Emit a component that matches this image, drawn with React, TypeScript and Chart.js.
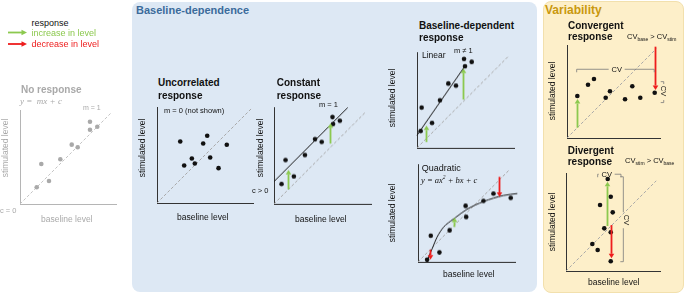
import React, { useEffect, useRef } from "react";
import { Chart, registerables } from "chart.js";
Chart.register(...registerables);

// ---------- data ----------
// No response (grey)
const noRespX = [7.29, 8.05, 7.29, 5.39, 6.01, 4.2, 2.22, 3.02, 1.74];
const noRespY = [8.57, 8.05, 7.74, 6.18, 5.91, 4.66, 4.17, 2.4, 1.74];
const noRespDiag = [0, 9.5];
// Uncorrelated response
const uncorrX = [2.42, 5.23, 4.81, 7.27, 3.63, 5.54, 3.94, 2.83, 6.41];
const uncorrY = [6.41, 7.0, 6.2, 6.06, 4.64, 4.74, 4.11, 3.91, 3.63];
const uncorrDiag = [0, 9.8];
// Constant response
const constX = [6.03, 6.79, 6.09, 4.23, 4.92, 3.19, 1.19, 2.05, 0.78];
const constY = [8.93, 8.55, 8.21, 6.65, 6.37, 5.03, 4.51, 2.82, 2.05];
const constFitX = [0, 7.6];
const constFitY = [2.3, 9.9];
const constDiag = [0, 9.4];
const constUpX = [1.45, 5.75];
const constUpFrom = [1.5, 6.2];
const constUpTo = [3.5, 8.3];
// Baseline-dependent: linear
const linX = [4.85, 5.64, 4.95, 3.23, 4.02, 2.37, 0.48, 1.55, 0.38];
const linY = [9.15, 8.85, 8.4, 6.62, 6.41, 4.9, 4.14, 2.56, 1.73];
const linFitX = [0, 5.0];
const linFitY = [1.3, 8.5];
const linDiag = [0, 9.5];
const linUpX = [0.9, 4.71];
const linUpFrom = [0.6, 4.97];
const linUpTo = [2.3, 8.16];
// Baseline-dependent: quadratic
const quadX = [7.78, 9.56, 6.75, 4.91, 4.97, 3.26, 1.32, 2.21, 0.94];
const quadY = [6.99, 6.55, 6.24, 5.73, 4.6, 3.23, 2.68, 0.97, 0.22];
const quadCurveX = [0.94, 1.46, 1.97, 2.65, 3.33, 3.85, 5.05, 6.75, 8.8, 10.24];
const quadCurveY = [0.15, 1.35, 2.54, 3.57, 4.15, 4.53, 5.38, 6.17, 6.79, 6.99];
const quadDiag = [0, 9.4];
const quadDownX = [1.21, 8.36];
const quadDownFrom = [1.25, 8.7];
const quadDownTo = [0.22, 6.65];
const quadUpX = [3.67];
const quadUpFrom = [3.57];
const quadUpTo = [4.53];
// Variability: convergent
const convX = [2.9, 2.26, 1.11, 4.62, 4.16, 7.02, 6.24, 7.88, 9.43];
const convY = [6.34, 5.73, 4.52, 5.02, 4.33, 5.56, 4.16, 4.33, 4.87];
const convDiag = [0, 9.6];
const convUpX = [1.11];
const convUpFrom = [1.11];
const convUpTo = [4.19];
const convDownX = [9.46];
const convDownFrom = [9.82];
const convDownTo = [5.16];
const convCvH = { x0: 1.04, x1: 9.38, y: 7.39, gapAt: 5.34 };
const convCvV = { y0: 3.81, y1: 6.06, x: 10.4, gapAt: 4.94 };
// Variability: divergent
const divX = [4.44, 4.76, 3.62, 4.97, 4.07, 4.76, 2.8, 3.37, 4.76];
const divY = [9.79, 7.9, 7.02, 6.24, 4.54, 4.12, 2.87, 2.23, 1.03];
const divDiag = [0, 9.6];
const divUpX = [4.4];
const divUpFrom = [4.79];
const divUpTo = [9.5];
const divDownX = [4.76];
const divDownFrom = [4.89];
const divDownTo = [1.35];
const divCvH = { x0: 3.37, x1: 5.85, y: 10.3, gapAt: 4.33 };
const divCvV = { y0: 0.99, y1: 10.03, x: 6.1, gapAt: 5.4 };

// ---------- styles ----------
const GREEN = "#8cc94f";
const RED = "#ee1d1d";
const GREY = "#a9a9a9";
const INK = "#111111";
const FONT = "'Liberation Sans', Arial, sans-serif";

type ArrowSet = { xs: number[]; from: number[]; to: number[]; color: string };
type HB = { x0: number; x1: number; y: number; gapAt: number };
type VB = { y0: number; y1: number; x: number; gapAt: number };

const pts = (xs: number[], ys: number[]) => xs.map((x, i) => ({ x, y: ys[i] }));
const scatterDs = (xs: number[], ys: number[], color: string) => ({
  type: "scatter" as const,
  data: pts(xs, ys),
  pointRadius: 2.3,
  pointBackgroundColor: color,
  pointBorderWidth: 0,
  showLine: false,
  clip: false as any,
  order: 0,
});
const diagDs = (d: number[], color: string) => ({
  type: "line" as const,
  data: pts(d, d),
  borderColor: color,
  borderWidth: 1,
  borderDash: [3, 2],
  pointRadius: 0,
  clip: false as any,
  order: 3,
});
const lineDs = (xs: number[], ys: number[], smooth: boolean) => ({
  type: "line" as const,
  data: pts(xs, ys),
  borderColor: "#1a1a1a",
  borderWidth: 1,
  pointRadius: 0,
  cubicInterpolationMode: smooth ? ("monotone" as const) : ("default" as const),
  tension: 0,
  clip: false as any,
  order: 2,
});

const PAD = 16;

function Plot(props: {
  left: number; top: number; width: number; height: number;
  yMax: number; datasets: any[]; axisColor: string;
  arrows?: ArrowSet[]; hb?: HB[]; vb?: VB[];
}) {
  const ref = useRef<HTMLCanvasElement>(null);
  const { left, top, width, height, yMax, datasets, axisColor } = props;
  useEffect(() => {
    const arrows = props.arrows || [];
    const hb = props.hb || [];
    const vb = props.vb || [];
    const annot = {
      id: "annot",
      afterDatasetsDraw(chart: any) {
        const ctx = chart.ctx as CanvasRenderingContext2D;
        const xs = chart.scales.x;
        const ys = chart.scales.y;
        ctx.save();
        for (const a of arrows) {
          a.xs.forEach((ax, i) => {
            const px = Math.round(xs.getPixelForValue(ax)) + 0.5;
            const p0 = ys.getPixelForValue(a.from[i]);
            const p1 = ys.getPixelForValue(a.to[i]);
            const dir = Math.sign(p1 - p0);
            const head = 4.5;
            const hw = 2.8;
            ctx.strokeStyle = a.color;
            ctx.fillStyle = a.color;
            ctx.lineWidth = 1.8;
            ctx.beginPath();
            ctx.moveTo(px, p0);
            ctx.lineTo(px, p1 - dir * head);
            ctx.stroke();
            ctx.beginPath();
            ctx.moveTo(px, p1);
            ctx.lineTo(px - hw, p1 - dir * head);
            ctx.lineTo(px + hw, p1 - dir * head);
            ctx.closePath();
            ctx.fill();
          });
        }
        ctx.strokeStyle = "#7a7a7a";
        ctx.lineWidth = 0.8;
        const tick = 3;
        const gap = 8;
        for (const b of hb) {
          const py = ys.getPixelForValue(b.y);
          const x0 = xs.getPixelForValue(b.x0);
          const x1 = xs.getPixelForValue(b.x1);
          const g = xs.getPixelForValue(b.gapAt);
          ctx.beginPath();
          ctx.moveTo(x0, py + tick);
          ctx.lineTo(x0, py);
          ctx.lineTo(g - gap, py);
          ctx.moveTo(g + gap, py);
          ctx.lineTo(x1, py);
          ctx.lineTo(x1, py + tick);
          ctx.stroke();
        }
        for (const b of vb) {
          const px = xs.getPixelForValue(b.x);
          const y0 = ys.getPixelForValue(b.y0);
          const y1 = ys.getPixelForValue(b.y1);
          const g = ys.getPixelForValue(b.gapAt);
          ctx.beginPath();
          ctx.moveTo(px - tick, y1);
          ctx.lineTo(px, y1);
          ctx.lineTo(px, g - gap);
          ctx.moveTo(px, g + gap);
          ctx.lineTo(px, y0);
          ctx.lineTo(px - tick, y0);
          ctx.stroke();
        }
        ctx.restore();
      },
    };
    const axis = (max: number) => ({
      type: "linear" as const,
      min: 0,
      max,
      grid: { display: false, drawTicks: false },
      ticks: { display: false },
      border: { display: true, color: axisColor, width: 1 },
    });
    const chart = new Chart(ref.current as HTMLCanvasElement, {
      type: "scatter",
      data: { datasets: datasets as any },
      options: {
        animation: false,
        responsive: false,
        maintainAspectRatio: false,
        events: [],
        layout: { padding: PAD },
        plugins: { legend: { display: false }, tooltip: { enabled: false } },
        scales: { x: axis(10) as any, y: axis(yMax) as any },
      },
      plugins: [annot],
    });
    return () => chart.destroy();
  }, []);
  return (
    <canvas
      ref={ref}
      width={width + 2 * PAD}
      height={height + 2 * PAD}
      style={{ position: "absolute", left: left - PAD, top: top - PAD, width: width + 2 * PAD, height: height + 2 * PAD }}
    />
  );
}

function T(props: {
  x: number; y: number; size?: number; color?: string; bold?: boolean; italic?: boolean;
  serif?: boolean; rot?: number; center?: boolean; children: any;
}) {
  const { x, y, size = 8.5, color = INK, bold, italic, serif, rot, center, children } = props;
  const base: any = {
    position: "absolute",
    fontSize: size,
    lineHeight: 1.2,
    color,
    fontWeight: bold ? "bold" : "normal",
    fontStyle: italic ? "italic" : "normal",
    fontFamily: serif ? "'Liberation Serif', 'Times New Roman', serif" : FONT,
    whiteSpace: "nowrap",
  };
  if (rot !== undefined || center) {
    return (
      <div style={{ ...base, left: x, top: y, transform: `translate(-50%,-50%) rotate(${rot || 0}deg)` }}>{children}</div>
    );
  }
  return <div style={{ ...base, left: x, top: y - 0.6 * size }}>{children}</div>;
}

const Sub = ({ children }: { children: any }) => (
  <span style={{ fontSize: 5, verticalAlign: "-1.5px" }}>{children}</span>
);

export default function App() {
  return (
    <div style={{ position: "fixed", left: 0, top: 0, width: 685, height: 294, overflow: "hidden", background: "#fff", fontFamily: FONT }}>
      {/* panels */}
      <div style={{ position: "absolute", left: 132, top: 2, width: 405, height: 290, background: "#dde8f4", borderRadius: 8 }} />
      <div style={{ position: "absolute", left: 543, top: 1, width: 139, height: 290, background: "#fdefc9", border: "1px solid #f2e0ad", borderRadius: 8 }} />

      {/* legend */}
      <svg width={30} height={50} style={{ position: "absolute", left: 0, top: 0 }}>
        <line x1={8} y1={32.5} x2={22} y2={32.5} stroke={GREEN} strokeWidth={1.8} />
        <polygon points="27,32.5 21.5,29.8 21.5,35.2" fill={GREEN} />
        <line x1={8} y1={44} x2={22} y2={44} stroke={RED} strokeWidth={1.8} />
        <polygon points="27,44 21.5,41.3 21.5,46.7" fill={RED} />
      </svg>

      {/* charts */}
      <Plot left={20} top={110} width={96} height={94} yMax={9.79} axisColor="#b5b5b5"
        datasets={[diagDs(noRespDiag, "#c4c4c4"), scatterDs(noRespX, noRespY, GREY)]} />
      <Plot left={156.5} top={106.5} width={96} height={96} yMax={10} axisColor="#333"
        datasets={[diagDs(uncorrDiag, "#a8a8a8"), scatterDs(uncorrX, uncorrY, INK)]} />
      <Plot left={273.5} top={107} width={97} height={96.5} yMax={9.95} axisColor="#333"
        datasets={[diagDs(constDiag, "#a8a8a8"), lineDs(constFitX, constFitY, false), scatterDs(constX, constY, INK)]}
        arrows={[{ xs: constUpX, from: constUpFrom, to: constUpTo, color: GREEN }]} />
      <Plot left={417} top={52} width={97} height={95.5} yMax={9.85} axisColor="#333"
        datasets={[diagDs(linDiag, "#a8a8a8"), lineDs(linFitX, linFitY, false), scatterDs(linX, linY, INK)]}
        arrows={[{ xs: linUpX, from: linUpFrom, to: linUpTo, color: GREEN }]} />
      <Plot left={417.5} top={164} width={97.5} height={97.5} yMax={10} axisColor="#333"
        datasets={[diagDs(quadDiag, "#a8a8a8"), lineDs(quadCurveX, quadCurveY, true), scatterDs(quadX, quadY, INK)]}
        arrows={[
          { xs: quadDownX, from: quadDownFrom, to: quadDownTo, color: RED },
          { xs: quadUpX, from: quadUpFrom, to: quadUpTo, color: GREEN },
        ]} />
      <Plot left={567} top={45} width={93} height={93} yMax={10} axisColor="#333"
        datasets={[diagDs(convDiag, "#a8a8a8"), scatterDs(convX, convY, INK)]}
        arrows={[
          { xs: convUpX, from: convUpFrom, to: convUpTo, color: GREEN },
          { xs: convDownX, from: convDownFrom, to: convDownTo, color: RED },
        ]}
        hb={[convCvH]} vb={[convCvV]} />
      <Plot left={566} top={173} width={94} height={98} yMax={10.43} axisColor="#333"
        datasets={[diagDs(divDiag, "#a8a8a8"), scatterDs(divX, divY, INK)]}
        arrows={[
          { xs: divUpX, from: divUpFrom, to: divUpTo, color: GREEN },
          { xs: divDownX, from: divDownFrom, to: divDownTo, color: RED },
        ]}
        hb={[divCvH]} vb={[divCvV]} />

      {/* panel titles */}
      <T x={136} y={10.7} size={11} bold color="#3b6b9b">Baseline-dependence</T>
      <T x={545} y={10.5} size={12} bold color="#c9980e">Variability</T>

      {/* legend text */}
      <T x={31.5} y={23.3} size={9}>response</T>
      <T x={31.5} y={33.3} size={9} color={GREEN}>increase in level</T>
      <T x={31.5} y={44} size={9} color={RED}>decrease in level</T>

      {/* No response */}
      <T x={21} y={90} size={10} bold color={GREY}>No response</T>
      <T x={20} y={101} size={9} italic serif color={GREY}>y =&nbsp; mx + c</T>
      <T x={83} y={108} size={7} color={GREY}>m = 1</T>
      <T x={5} y={147.5} size={8.5} rot={-90} color={GREY}>stimulated level</T>
      <T x={0} y={210} size={7.5} color={GREY}>c = 0</T>
      <T x={41} y={219} size={8.5} color={GREY}>baseline level</T>

      {/* Uncorrelated */}
      <T x={158} y={83} size={10} bold>Uncorrelated</T>
      <T x={158} y={95.7} size={10} bold>response</T>
      <T x={164} y={110.7} size={7.5}>m = 0 (not shown)</T>
      <T x={142} y={148} size={8.5} rot={-90}>stimulated level</T>
      <T x={177} y={217.5} size={8.5}>baseline level</T>

      {/* Constant */}
      <T x={276.7} y={83} size={10} bold>Constant</T>
      <T x={276.7} y={95.7} size={10} bold>response</T>
      <T x={319} y={104.3} size={7.5}>m = 1</T>
      <T x={252} y={190} size={7.5}>c &gt; 0</T>
      <T x={260} y={147.5} size={8.5} rot={-90}>stimulated level</T>
      <T x={295} y={219} size={8.5}>baseline level</T>

      {/* Baseline-dependent */}
      <T x={419} y={25.7} size={10} bold>Baseline-dependent</T>
      <T x={419} y={37.5} size={10} bold>response</T>
      <T x={422} y={55} size={8.5}>Linear</T>
      <T x={454} y={50.7} size={7.5}>m ≠ 1</T>
      <T x={392} y={98} size={8.5} rot={-90}>stimulated level</T>
      <T x={421.7} y={168.3} size={9}>Quadratic</T>
      <T x={421} y={179} size={8.5} italic serif>y = ax<sup style={{ fontSize: 5.5 }}>2</sup> + bx + c</T>
      <T x={392} y={212.5} size={8.5} rot={-90}>stimulated level</T>
      <T x={443} y={274.3} size={8.5}>baseline level</T>

      {/* Convergent */}
      <T x={568} y={26} size={10} bold>Convergent</T>
      <T x={568} y={37.3} size={10} bold>response</T>
      <T x={627} y={36.7} size={7.5}>CV<Sub>base</Sub> &gt; CV<Sub>stim</Sub></T>
      <T x={552} y={91} size={8.5} rot={-90}>stimulated level</T>
      <T x={616.7} y={69.3} size={7.5} center>CV</T>
      <T x={662.5} y={91} size={7.5} rot={90}>CV</T>

      {/* Divergent */}
      <T x={567.7} y={151} size={10} bold>Divergent</T>
      <T x={567.7} y={162.3} size={10} bold>response</T>
      <T x={625} y={160} size={7.5}>CV<Sub>stim</Sub> &gt; CV<Sub>base</Sub></T>
      <T x={552} y={222} size={8.5} rot={-90}>stimulated level</T>
      <T x={606.7} y={173.5} size={7.5} center>CV</T>
      <T x={625.5} y={220} size={7.5} rot={90}>CV</T>
      <T x={588} y={281.7} size={8.5}>baseline level</T>
    </div>
  );
}
